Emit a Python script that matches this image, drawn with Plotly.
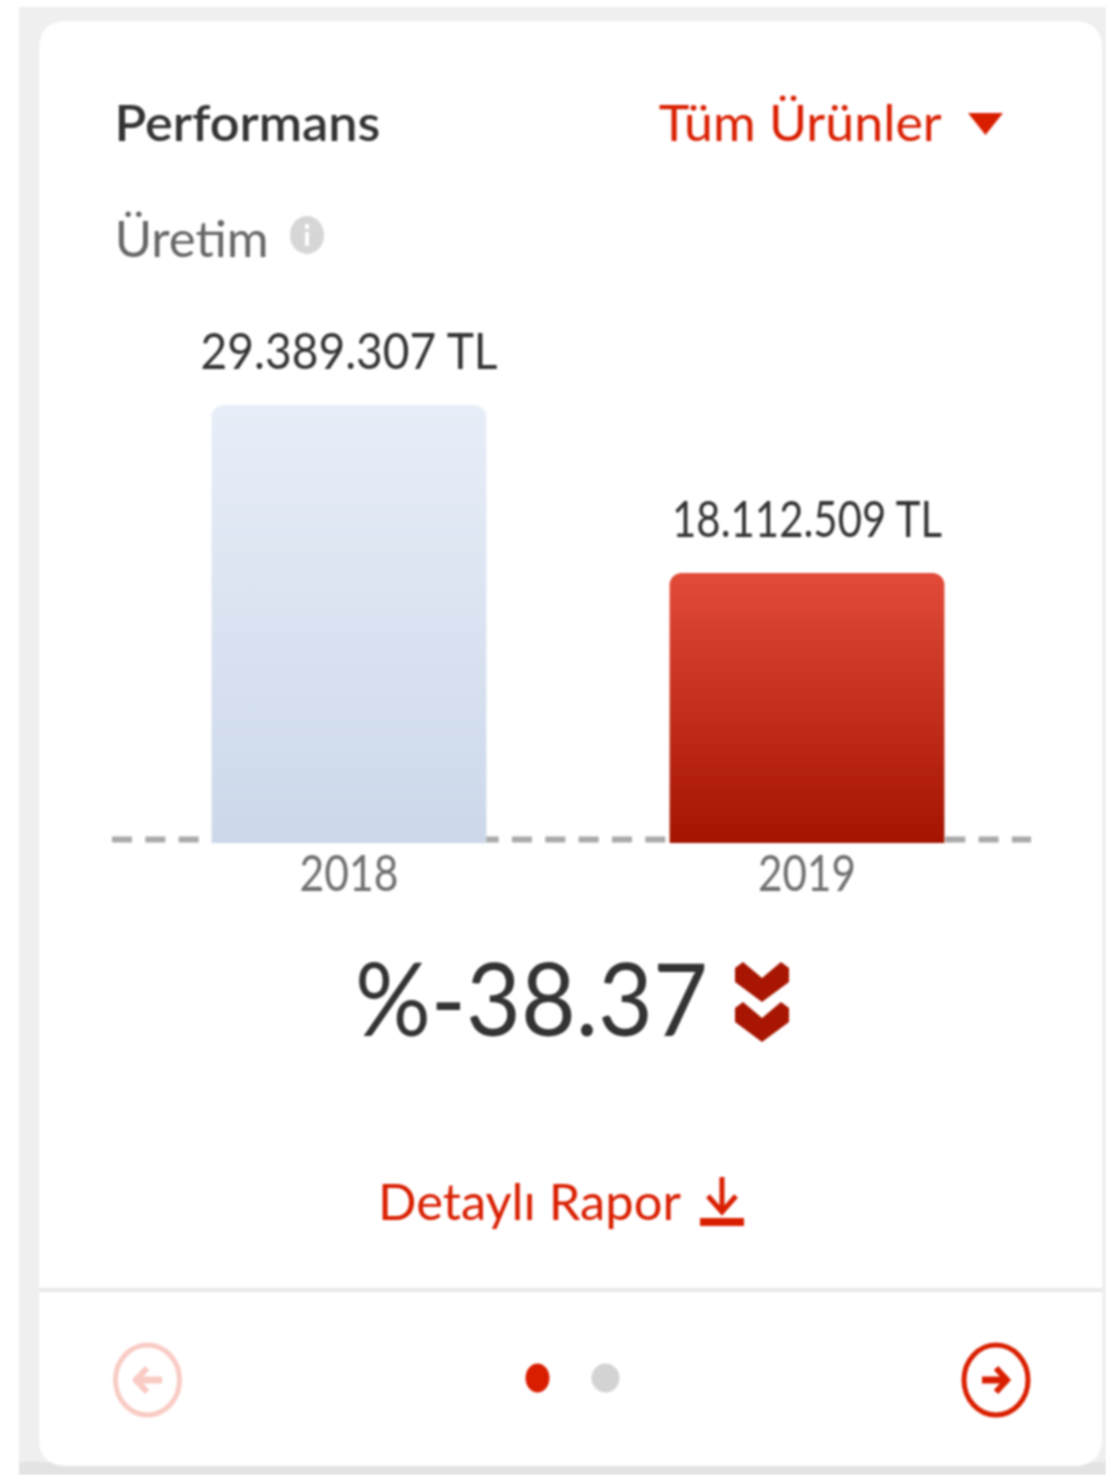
import json
import plotly.graph_objects as go

W, H = 1106, 1475
FONT = "Lato"

years = ["2018", "2019"]
production = [29389307, 18112509]
change_label = "%-38.37"
title = "Performans"
subtitle = "Üretim"
filter_label = "Tüm Ürünler"
report_label = "Detaylı Rapor"
bar_colors = ["#dbe4f1", "#c42a17"]

RED = "#d91e00"
DARK_RED = "#a81500"


def X(v):
    return v / W


def Y(v):
    return 1 - v / H


def P(*cmds):
    out = []
    for c in cmds:
        if isinstance(c, str):
            out.append(c)
        else:
            out.append(f"{X(c[0]):.5f},{Y(c[1]):.5f}")
    return " ".join(out)


def shape_path(path, fill=None, line=None, lw=0):
    return dict(type="path", xref="paper", yref="paper", layer="below", path=path,
                fillcolor=fill or "rgba(0,0,0,0)",
                line=dict(color=line or "rgba(0,0,0,0)", width=lw))


def rect(x0, y0, x1, y1, fill):
    return dict(type="rect", xref="paper", yref="paper", layer="below",
                x0=X(x0), x1=X(x1), y0=Y(y1), y1=Y(y0), fillcolor=fill, line=dict(width=0))


def ellipse(cx, cy, rx, ry, fill=None, line=None, lw=0):
    return dict(type="circle", xref="paper", yref="paper", layer="below",
                x0=X(cx - rx), x1=X(cx + rx), y0=Y(cy + ry), y1=Y(cy - ry),
                fillcolor=fill or "rgba(0,0,0,0)",
                line=dict(color=line or "rgba(0,0,0,0)", width=lw))


def chevron(x0, x1, y0, y1, fill):
    mid = (x0 + x1) / 2
    return shape_path(P("M", (x0, y0 + 6), "L", (x0 + 8, y0), "L", (mid, y0 + 16), "L", (x1 - 8, y0),
                        "L", (x1, y0 + 6), "L", (x1, y1 - 20), "L", (mid, y1), "L", (x0, y1 - 20), "Z"), fill)


cx0, cy0, cx1, cy1, r = 39, 21, 1102, 1466, 28
shapes = [
    rect(19, 7, W, H, "#efefef"),
    rect(19, 1462, W, H, "#e3e3e3"),
    shape_path(P("M", (cx0 + r, cy0), "L", (cx1 - r, cy0), "Q", (cx1, cy0), (cx1, cy0 + r),
                 "L", (cx1, cy1 - r), "Q", (cx1, cy1), (cx1 - r, cy1),
                 "L", (cx0 + r, cy1), "Q", (cx0, cy1), (cx0, cy1 - r),
                 "L", (cx0, cy0 + r), "Q", (cx0, cy0), (cx0 + r, cy0), "Z"), "#ffffff"),
    rect(39, 1288, 1102, 1292, "#e9e9e9"),
    dict(type="line", xref="paper", yref="paper", layer="below",
         x0=X(112), x1=X(1031), y0=Y(839.5), y1=Y(839.5),
         line=dict(color="#a9a9a9", width=6, dash="20px,13.33px")),
    shape_path(P("M", (968, 113), "L", (1003, 113), "L", (985.5, 135), "Z"), RED),
    ellipse(307, 235, 17, 19, "#d6d6d6"),
    rect(305, 232, 309, 246, "#ffffff"),
    rect(305, 224, 309, 229, "#ffffff"),
    chevron(735, 789, 962, 1002, DARK_RED),
    chevron(735, 789, 1002, 1042, DARK_RED),
    shape_path(P("M", (722, 1177), "L", (722, 1208)), None, RED, 5),
    shape_path(P("M", (708, 1196), "L", (722, 1212), "L", (736, 1196)), None, RED, 5),
    rect(700, 1218, 744, 1226, RED),
    ellipse(147.5, 1380, 32, 35, None, "#f9cbc4", 5),
    shape_path(P("M", (134, 1380), "L", (162, 1380)), None, "#f9cbc4", 7),
    shape_path(P("M", (147, 1368), "L", (136, 1380), "L", (147, 1392)), None, "#f9cbc4", 6),
    ellipse(996, 1380, 32, 35, None, RED, 5),
    shape_path(P("M", (982, 1380), "L", (1008, 1380)), None, RED, 7),
    shape_path(P("M", (996, 1368), "L", (1007, 1380), "L", (996, 1392)), None, RED, 6),
    ellipse(537.5, 1378, 12, 14.5, RED),
    ellipse(605.5, 1378, 14, 14.5, "#d3d3d3"),
]


def label(text, x, y, size, color, weight=400):
    return dict(xref="paper", yref="paper", x=X(x), y=Y(y), text=text, showarrow=False,
                xanchor="center", yanchor="middle",
                font=dict(family=FONT, size=size, color=color, weight=weight))


annotations = [
    label(title, 247.5, 122, 50, "#333333", weight=600),
    label(filter_label, 800.5, 122, 50, RED),
    label(subtitle, 191.5, 238, 50, "#666666"),
    label(change_label, 531.5, 997, 100, "#333333"),
    label(report_label, 529.5, 1201, 50, RED),
]
value_labels = [f"{v:,}".replace(",", ".") + " TL" for v in production]
for i, (text, value) in enumerate(zip(value_labels, production)):
    annotations.append(dict(
        xref="x", yref="y", x=i, y=value, yanchor="bottom", xanchor="center",
        yshift=23, showarrow=False, text=text,
        font=dict(family=FONT, size=50, color="#333333"),
    ))

# horizontal width (px) each text occupies in the reference
text_widths = {
    title: 266, filter_label: 283, subtitle: 154, change_label: 353, report_label: 303,
    value_labels[0]: 297, value_labels[1]: 270, years[0]: 99, years[1]: 98,
}

fig = go.Figure(go.Bar(
    x=years, y=production, width=0.6,
    marker=dict(color=bar_colors, line=dict(width=0), cornerradius=12),
    hoverinfo="skip", cliponaxis=False,
))
fig.update_layout(
    width=W, height=H, margin=dict(l=0, r=0, t=0, b=0), autosize=False,
    paper_bgcolor="#ffffff", plot_bgcolor="rgba(0,0,0,0)",
    showlegend=False, shapes=shapes, annotations=annotations,
    xaxis=dict(type="category", domain=[X(120), X(1036)], range=[-0.5, 1.5],
               showgrid=False, zeroline=False, showline=False, ticks="", ticklabelstandoff=-3,
               tickfont=dict(family=FONT, size=50, color="#6f6f6f")),
    yaxis=dict(domain=[Y(843), Y(405)], range=[0, production[0]], visible=False),
)

post = """
document.documentElement.style.margin='0';
document.body.style.margin='0';
document.body.style.overflow='hidden';
var gd=document.getElementById('{plot_id}');
var svg=gd.querySelector('svg.main-svg');
var NS='http://www.w3.org/2000/svg';
var defs=document.createElementNS(NS,'defs');
[['gbar0','#e8eef8','#ccd8ea'],['gbar1','#e24b39','#a41400']].forEach(function(g){
  var lg=document.createElementNS(NS,'linearGradient');
  lg.setAttribute('id',g[0]);lg.setAttribute('x1','0');lg.setAttribute('y1','0');lg.setAttribute('x2','0');lg.setAttribute('y2','1');
  [[0,g[1]],[1,g[2]]].forEach(function(s){
    var st=document.createElementNS(NS,'stop');st.setAttribute('offset',s[0]);st.setAttribute('stop-color',s[1]);lg.appendChild(st);
  });
  defs.appendChild(lg);
});
svg.insertBefore(defs,svg.firstChild);
gd.querySelectorAll('.bars .point path').forEach(function(p,i){p.style.fill='url(#gbar'+i+')';});
var widths=__WIDTHS__;
gd.querySelectorAll('.annotation-text, .xtick text').forEach(function(t){
  var w=widths[t.textContent]; if(!w) return;
  var b=t.getBBox(), cx=b.x+b.width/2, cy=b.y+b.height/2, s=w/b.width;
  var old=t.getAttribute('transform')||'';
  t.setAttribute('transform',old+' translate('+cx+' '+cy+') scale('+s+' 1) translate('+(-cx)+' '+(-cy)+')');
});
gd.style.filter='blur(0.8px)';
""".replace("__WIDTHS__", json.dumps(text_widths, ensure_ascii=False))
fig.write_html("out.html", post_script=post, config={"displayModeBar": False})
